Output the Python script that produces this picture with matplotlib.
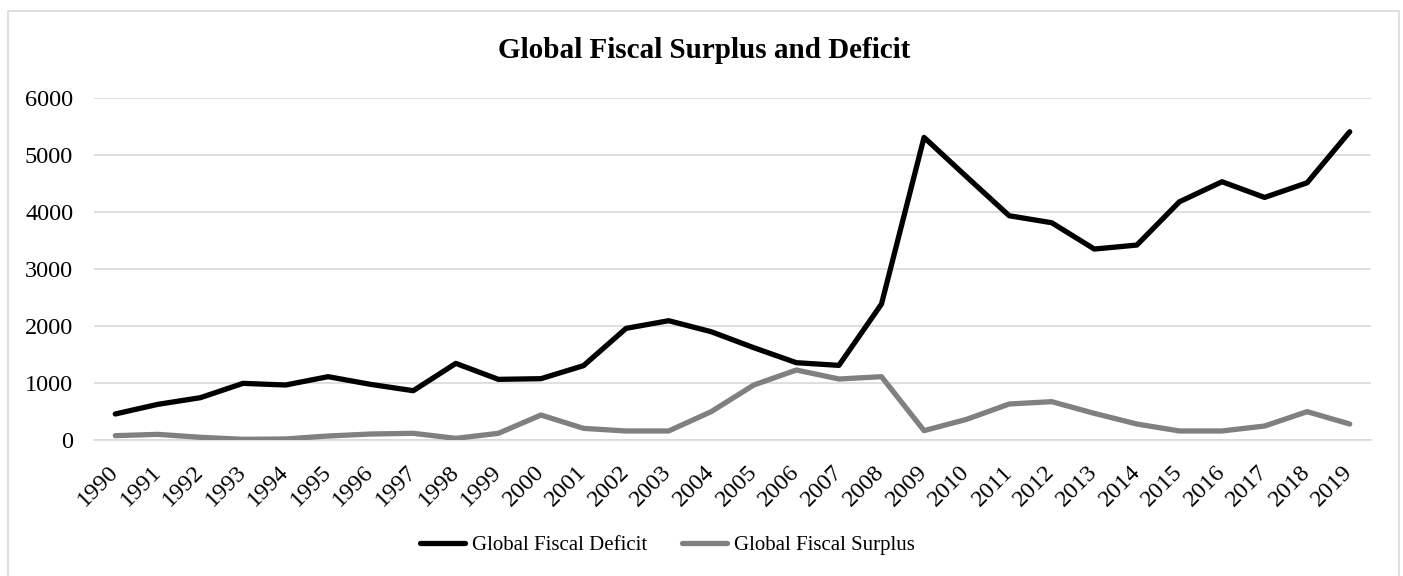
import matplotlib
matplotlib.use('Agg')
from matplotlib import pyplot as plt
from matplotlib.patches import Rectangle

# --------------- data ---------------

years = [str(y) for y in range(1990, 2020)]

fiscal_deficit = [456, 625, 742, 993, 964, 1110, 975, 864, 1343, 1063,
                  1075, 1303, 1957, 2091, 1898, 1618, 1355, 1308, 2383, 5304,
                  4614, 3931, 3808, 3347, 3417, 4176, 4527, 4252, 4509, 5403]

fiscal_surplus = [76, 99, 47, 12, 18, 70, 105, 117, 29, 117,
                  438, 204, 158, 158, 497, 964, 1227, 1069, 1110, 164,
                  362, 631, 672, 467, 280, 158, 158, 245, 497, 280]

y_ticks = [0, 1000, 2000, 3000, 4000, 5000, 6000]

plt.rcParams['font.family'] = ['Liberation Serif', 'DejaVu Serif']

W, H = 1403, 576
fig = plt.figure(figsize=(W / 100, H / 100), dpi=100)

# chart area border
fig.patches.append(Rectangle((8 / W, -0.05), (1399 - 8) / W, 1.05 - 11 / H,
                             transform=fig.transFigure, fill=False,
                             edgecolor='#d9d9d9', linewidth=1.2))

ax = fig.add_axes([94 / W, (H - 440) / H, (1371 - 94) / W, (440 - 97.7) / H])

x = range(len(years))
ax.plot(x, fiscal_deficit, color='black', linewidth=3.8, label='Global Fiscal Deficit',
        solid_capstyle='round', solid_joinstyle='round', zorder=3)
ax.plot(x, fiscal_surplus, color='#808080', linewidth=3.8, label='Global Fiscal Surplus',
        solid_capstyle='round', solid_joinstyle='round', zorder=3)

ax.set_xlim(-0.5, len(years) - 0.5)
ax.set_ylim(0, 6000)
ax.set_yticks(y_ticks)
ax.set_yticklabels([str(v) for v in y_ticks], fontsize=17.5)
ax.set_xticks(list(x))
ax.set_xticklabels(years, fontsize=17.5, rotation=45, ha='right', va='center',
                   rotation_mode='anchor')
ax.tick_params(axis='both', length=0)
ax.tick_params(axis='y', pad=15)
ax.tick_params(axis='x', pad=21)

ax.grid(axis='y', color='#d9d9d9', linewidth=1.2)
ax.set_axisbelow(True)
for side in ['top', 'right', 'left']:
    ax.spines[side].set_visible(False)
ax.spines['bottom'].set_color('#d9d9d9')
ax.spines['bottom'].set_linewidth(1.2)

fig.text(704 / W, 1 - 50 / H, 'Global Fiscal Surplus and Deficit', ha='center', va='center',
         fontsize=21, fontweight='bold')

fig.legend(loc='center', bbox_to_anchor=(667.5 / W, 1 - 545 / H), ncol=2, frameon=False,
           fontsize=15, handlelength=2.15, handletextpad=0.33, columnspacing=1.7)

plt.savefig('out.png', dpi=100)
